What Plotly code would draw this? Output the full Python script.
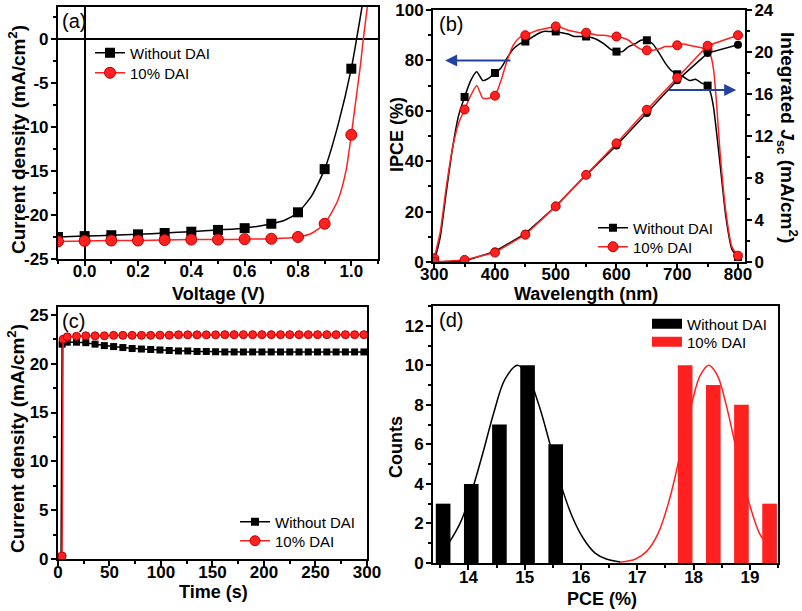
import plotly.graph_objects as go

# ---------------- (a) J-V ----------------
v_markers = [-0.1, 0.0, 0.1, 0.2, 0.3, 0.4, 0.5, 0.6, 0.7, 0.8, 0.9, 1.0]
jv_wo_markers = [-22.5, -22.4, -22.3, -22.2, -22.05, -21.9, -21.7, -21.5, -21.0, -19.7, -14.8, -3.4]
jv_dai_markers = [-23.0, -22.95, -22.9, -22.9, -22.85, -22.8, -22.8, -22.75, -22.7, -22.5, -21.0, -10.9]
v_line_wo = [-0.1, 0.0, 0.1, 0.2, 0.3, 0.4, 0.5, 0.6, 0.7, 0.75, 0.8, 0.85, 0.9, 0.95, 1.0, 1.02, 1.04, 1.06]
jv_line_wo = [-22.5, -22.4, -22.3, -22.2, -22.05, -21.9, -21.7, -21.5, -21.0, -20.6, -19.7, -17.9, -14.8, -9.8, -3.4, 0.0, 3.6, 7.5]
v_line_dai = [-0.1, 0.0, 0.1, 0.2, 0.3, 0.4, 0.5, 0.6, 0.7, 0.8, 0.85, 0.9, 0.95, 0.98, 1.0, 1.02, 1.035, 1.045, 1.06, 1.07]
jv_line_dai = [-23.0, -22.95, -22.9, -22.9, -22.85, -22.8, -22.8, -22.75, -22.7, -22.5, -22.1, -21.0, -18.3, -15.0, -10.9, -6.3, -2.8, 0.0, 3.6, 6.5]
a_xticks = [0.0, 0.2, 0.4, 0.6, 0.8, 1.0]
a_xticklabels = ["0.0", "0.2", "0.4", "0.6", "0.8", "1.0"]
a_yticks = [-25, -20, -15, -10, -5, 0]
a_yticklabels = ["-25", "-20", "-15", "-10", "-5", "0"]

# ---------------- (b) IPCE & integrated Jsc ----------------
wl_dense_wo = [300, 310, 320, 330, 340, 350, 360, 370, 380, 390, 400, 410, 420, 430, 440, 450, 460, 470, 480,
               490, 500, 510, 520, 530, 540, 550, 560, 570, 580, 590, 600, 610, 620, 630, 640, 650, 660, 670,
               680, 690, 700, 710, 720, 730, 740, 750, 755, 760, 770, 780, 790, 800]
ipce_dense_wo = [0, 10, 28, 45, 58, 65.5, 72, 75.5, 72, 73, 75, 77, 81, 84.5, 86.5, 87.5, 89, 90.5, 91.5,
                 91.5, 91.5, 91, 90.5, 89.5, 89.5, 89.5, 89, 88, 86.5, 84.5, 83.5, 83.5, 85.5, 86.5, 88, 88, 86.5, 83,
                 79, 76, 74.5, 73.5, 72, 72.5, 71, 70, 67, 61, 40, 18, 5, 2]
wl_dense_dai = [300, 310, 320, 330, 340, 350, 360, 370, 380, 390, 400, 410, 420, 430, 440, 450, 460, 470, 480,
                490, 500, 510, 520, 530, 540, 550, 560, 570, 580, 590, 600, 610, 620, 630, 640, 650, 660, 670,
                680, 690, 700, 710, 720, 730, 740, 750, 755, 760, 765, 770, 780, 790, 800]
ipce_dense_dai = [1.5, 12, 30, 45, 55, 60.5, 66, 70, 65, 65, 66, 72, 80, 86, 89, 90, 91, 92, 92.5,
                  93, 93.5, 93, 92, 91.5, 91, 91, 90.5, 90, 90, 89.5, 89.5, 89, 88, 86, 84.5, 84, 84, 84.5,
                  85.5, 85.5, 86, 86.5, 86, 85.5, 85, 84, 82, 76, 62, 45, 20, 6, 2.5]
wl_markers = [300, 350, 400, 450, 500, 550, 600, 650, 700, 750, 800]
ipce_wo_markers = [0, 65.5, 75, 87.5, 91.5, 89.5, 83.5, 88, 74.5, 70, 2]
ipce_dai_markers = [1.5, 60.5, 66, 90, 93.5, 91, 89.5, 84, 86, 84, 2.5]
jsc_wo = [0, 0.1, 1.0, 2.7, 5.3, 8.3, 11.1, 14.2, 17.3, 19.9, 20.7]
jsc_dai = [0, 0.2, 0.9, 2.6, 5.3, 8.3, 11.3, 14.5, 17.55, 20.6, 21.6]
b_xticks = [300, 400, 500, 600, 700, 800]
b_xticklabels = ["300", "400", "500", "600", "700", "800"]
b_yticks = [0, 20, 40, 60, 80, 100]
b_yticklabels = ["0", "20", "40", "60", "80", "100"]
b_y2ticks = [0, 4, 8, 12, 16, 20, 24]
b_y2ticklabels = ["0", "4", "8", "12", "16", "20", "24"]

# ---------------- (c) stability ----------------
t_wo = [0, 3, 4, 9, 18, 27, 36, 45, 54, 63, 72, 81, 90, 99, 108, 117, 126, 135, 144, 153, 162, 171,
        180, 189, 198, 207, 216, 225, 234, 243, 252, 261, 270, 279, 288, 297]
j_wo = [0, 0.2, 22.0, 22.2, 22.2, 22.15, 22.0, 21.85, 21.75, 21.65, 21.55, 21.5, 21.45, 21.4, 21.35, 21.3,
        21.3, 21.25, 21.25, 21.22, 21.2, 21.2, 21.2, 21.2, 21.2, 21.2, 21.2, 21.2, 21.2, 21.2, 21.2, 21.2,
        21.2, 21.2, 21.2, 21.2]
t_dai = [0, 4, 5, 9, 18, 27, 36, 45, 54, 63, 72, 81, 90, 99, 108, 117, 126, 135, 144, 153, 162, 171,
         180, 189, 198, 207, 216, 225, 234, 243, 252, 261, 270, 279, 288, 297]
j_dai = [0.2, 0.3, 22.5, 22.75, 22.8, 22.85, 22.85, 22.85, 22.9, 22.9, 22.9, 22.9, 22.9, 22.92, 22.92, 22.95,
         22.95, 22.95, 22.95, 22.95, 22.97, 22.97, 22.97, 22.97, 22.97, 22.97, 22.97, 22.97, 22.97, 22.97,
         22.97, 22.97, 22.97, 22.97, 22.97, 22.97]
c_xticks = [0, 50, 100, 150, 200, 250, 300]
c_xticklabels = ["0", "50", "100", "150", "200", "250", "300"]
c_yticks = [0, 5, 10, 15, 20, 25]
c_yticklabels = ["0", "5", "10", "15", "20", "25"]

# ---------------- (d) PCE histogram ----------------
pce_bins_wo = [13.55, 14.05, 14.55, 15.05, 15.55]
counts_wo = [3, 4, 7, 10, 6]
pce_bins_dai = [17.85, 18.35, 18.85, 19.35]
counts_dai = [10, 9, 8, 3]
fit_x_wo = [13.65, 13.85, 14.05, 14.25, 14.45, 14.65, 14.87, 15.05, 15.25, 15.45, 15.65, 15.85, 16.05, 16.25, 16.45, 16.7]
fit_y_wo = [1.0, 2.0, 3.55, 5.5, 7.6, 9.3, 10.0, 9.5, 8.0, 6.0, 3.9, 2.3, 1.2, 0.5, 0.2, 0.05]
fit_x_dai = [16.7, 16.97, 17.17, 17.37, 17.57, 17.77, 17.97, 18.12, 18.27, 18.42, 18.57, 18.77, 18.97, 19.17, 19.25]
fit_y_dai = [0.04, 0.2, 0.6, 1.5, 3.2, 5.6, 8.1, 9.5, 10.0, 9.5, 8.1, 5.6, 3.2, 1.5, 1.15]
d_xticks = [14, 15, 16, 17, 18, 19]
d_xticklabels = ["14", "15", "16", "17", "18", "19"]
d_yticks = [0, 2, 4, 6, 8, 10, 12]
d_yticklabels = ["0", "2", "4", "6", "8", "10", "12"]

LEG_WO = "Without DAI"
LEG_DAI = "10% DAI"
RED = "#ff2020"
RED_EDGE = "#c00000"
BLUE = "#2440a0"
FONT = "Liberation Sans, Arial, sans-serif"

fig = go.Figure()


def legend_dummy(name, legend, xa, ya, line, marker=None, mode="lines+markers"):
    kw = dict(x=[None], y=[None], mode=mode, name=name, line=line, xaxis=xa, yaxis=ya, legend=legend)
    if marker is not None:
        kw["marker"] = marker
    fig.add_trace(go.Scatter(**kw))


# (a)
fig.add_trace(go.Scatter(x=v_line_wo, y=jv_line_wo, mode="lines", line=dict(color="black", width=1.5, shape="spline", smoothing=0.6),
                         xaxis="x", yaxis="y", showlegend=False, hoverinfo="skip"))
fig.add_trace(go.Scatter(x=v_line_dai, y=jv_line_dai, mode="lines", line=dict(color=RED, width=1.5, shape="spline", smoothing=0.6),
                         xaxis="x", yaxis="y", showlegend=False, hoverinfo="skip"))
fig.add_trace(go.Scatter(x=v_markers, y=jv_wo_markers, mode="markers", marker=dict(symbol="square", size=10, color="black"),
                         xaxis="x", yaxis="y", showlegend=False))
fig.add_trace(go.Scatter(x=v_markers, y=jv_dai_markers, mode="markers",
                         marker=dict(symbol="circle", size=11, color=RED, line=dict(color=RED_EDGE, width=1)),
                         xaxis="x", yaxis="y", showlegend=False))
legend_dummy(LEG_WO, "legend", "x", "y", dict(color="black", width=1.5), dict(symbol="square", size=10, color="black"))
legend_dummy(LEG_DAI, "legend2", "x", "y", dict(color=RED, width=1.5),
             dict(symbol="circle", size=11, color=RED, line=dict(color=RED_EDGE, width=1)))

# (b)
fig.add_trace(go.Scatter(x=wl_dense_wo, y=ipce_dense_wo, mode="lines", line=dict(color="black", width=1.5, shape="spline", smoothing=0.5),
                         xaxis="x2", yaxis="y2", showlegend=False, hoverinfo="skip"))
fig.add_trace(go.Scatter(x=wl_dense_dai, y=ipce_dense_dai, mode="lines", line=dict(color=RED, width=1.5, shape="spline", smoothing=0.5),
                         xaxis="x2", yaxis="y2", showlegend=False, hoverinfo="skip"))
fig.add_trace(go.Scatter(x=wl_markers, y=ipce_wo_markers, mode="markers", marker=dict(symbol="square", size=8, color="black"),
                         xaxis="x2", yaxis="y2", showlegend=False))
fig.add_trace(go.Scatter(x=wl_markers, y=ipce_dai_markers, mode="markers",
                         marker=dict(symbol="circle", size=9, color=RED, line=dict(color=RED_EDGE, width=1)),
                         xaxis="x2", yaxis="y2", showlegend=False))
fig.add_trace(go.Scatter(x=wl_markers, y=jsc_wo, mode="lines+markers", line=dict(color="black", width=1.5),
                         marker=dict(symbol="circle", size=8, color="black"),
                         xaxis="x2", yaxis="y3", showlegend=False))
fig.add_trace(go.Scatter(x=wl_markers, y=jsc_dai, mode="lines+markers", line=dict(color=RED, width=1.5),
                         marker=dict(symbol="circle", size=9, color=RED, line=dict(color=RED_EDGE, width=1)),
                         xaxis="x2", yaxis="y3", showlegend=False))
legend_dummy(LEG_WO, "legend3", "x2", "y2", dict(color="black", width=1.5), dict(symbol="square", size=8, color="black"))
legend_dummy(LEG_DAI, "legend4", "x2", "y2", dict(color=RED, width=1.5),
             dict(symbol="circle", size=10, color=RED, line=dict(color=RED_EDGE, width=1)))

# (c)
fig.add_trace(go.Scatter(x=t_wo, y=j_wo, mode="lines+markers", line=dict(color="black", width=1.5),
                         marker=dict(symbol="square", size=7, color="black"), xaxis="x3", yaxis="y4", showlegend=False))
fig.add_trace(go.Scatter(x=t_dai, y=j_dai, mode="lines+markers", line=dict(color=RED, width=1.5),
                         marker=dict(symbol="circle", size=8, color=RED, line=dict(color=RED_EDGE, width=1)),
                         xaxis="x3", yaxis="y4", showlegend=False))
legend_dummy(LEG_WO, "legend5", "x3", "y4", dict(color="black", width=1.5), dict(symbol="square", size=8, color="black"))
legend_dummy(LEG_DAI, "legend6", "x3", "y4", dict(color=RED, width=1.5),
             dict(symbol="circle", size=10, color=RED, line=dict(color=RED_EDGE, width=1)))

# (d)
fig.add_trace(go.Bar(x=pce_bins_wo, y=counts_wo, width=0.26, marker=dict(color="black", line=dict(width=0)),
                     name=LEG_WO, xaxis="x4", yaxis="y5", showlegend=False))
fig.add_trace(go.Bar(x=pce_bins_dai, y=counts_dai, width=0.26, marker=dict(color=RED, line=dict(width=0)),
                     name=LEG_DAI, xaxis="x4", yaxis="y5", showlegend=False))
fig.add_trace(go.Scatter(x=fit_x_wo, y=fit_y_wo, mode="lines", line=dict(color="black", width=1.5, shape="spline"),
                         xaxis="x4", yaxis="y5", showlegend=False))
fig.add_trace(go.Scatter(x=fit_x_dai, y=fit_y_dai, mode="lines", line=dict(color=RED, width=1.5, shape="spline"),
                         xaxis="x4", yaxis="y5", showlegend=False))
legend_dummy(LEG_WO, "legend7", "x4", "y5", dict(color="black", width=12), mode="lines")
legend_dummy(LEG_DAI, "legend8", "x4", "y5", dict(color=RED, width=12), mode="lines")

TICK_SIZE = 17
tickfont = dict(family=FONT, size=TICK_SIZE, color="black")
titlefont = dict(family=FONT, size=18, color="black", weight="bold")


def bold(labels):
    return ["<b>%s</b>" % s for s in labels]


def ax(domain, rng, tickvals, ticktext, minor_dtick, anchor, standoff, **kw):
    d = dict(domain=domain, range=rng, tickmode="array", tickvals=tickvals, ticktext=bold(ticktext),
             showgrid=False, zeroline=False, automargin=False, ticklabelstandoff=standoff,
             showline=True, linecolor="black", linewidth=2, mirror=True, ticks="outside", ticklen=5,
             tickwidth=2, tickcolor="black", tickfont=tickfont,
             minor=dict(dtick=minor_dtick, tick0=0, ticks="outside", ticklen=3, tickwidth=1.5, tickcolor="black", showgrid=False),
             anchor=anchor)
    d.update(kw)
    return d


legend_common = dict(bgcolor="rgba(0,0,0,0)", font=dict(family=FONT, size=15, color="black"),
                     tracegroupgap=0, itemwidth=30, xanchor="left", yanchor="middle", borderwidth=0)


def leg(x_px, y_px):
    d = dict(legend_common)
    d.update(x=x_px / 802, y=1 - y_px / 611)
    return d


fig.update_layout(
    template="none",
    width=802, height=611, margin=dict(l=0, r=0, t=0, b=0, autoexpand=False),
    paper_bgcolor="white", plot_bgcolor="white", barmode="overlay",
    font=dict(family=FONT, color="black"),
    xaxis=ax([0.0723, 0.4713], [-0.1, 1.1], a_xticks, a_xticklabels, 0.1, "y", -9,
             zeroline=True, zerolinecolor="black", zerolinewidth=2),
    yaxis=ax([0.5761, 0.9885], [-25, 3.6], a_yticks, a_yticklabels, 2.5, "x", -1,
             zeroline=True, zerolinecolor="black", zerolinewidth=2),
    xaxis2=ax([0.5399, 0.9289], [298, 811.5], b_xticks, b_xticklabels, 50, "y2", -9),
    yaxis2=ax([0.5712, 0.9836], [0, 100], b_yticks, b_yticklabels, 10, "x2", -1),
    yaxis3=dict(overlaying="y2", side="right", anchor="x2", range=[0, 24], tickmode="array",
                tickvals=b_y2ticks, ticktext=bold(b_y2ticklabels), showgrid=False, zeroline=False, automargin=False,
                showline=True, linecolor="black", linewidth=2, ticks="outside", ticklen=5, tickwidth=2,
                tickcolor="black", tickfont=tickfont, ticklabelstandoff=-1,
                minor=dict(dtick=2, tick0=0, ticks="outside", ticklen=3, tickwidth=1.5, tickcolor="black")),
    xaxis3=ax([0.0723, 0.4576], [0, 300], c_xticks, c_xticklabels, 25, "y4", -8),
    yaxis4=ax([0.0851, 0.4975], [0, 25.8], c_yticks, c_yticklabels, 2.5, "x3", -1),
    xaxis4=ax([0.5399, 0.9701], [13.37, 19.5], d_xticks, d_xticklabels, 0.5, "y5", -7),
    yaxis5=ax([0.0786, 0.4992], [0, 13], d_yticks, d_yticklabels, 1, "x4", -1),
    legend=leg(90, 53), legend2=leg(90, 73),
    legend3=leg(593, 228), legend4=leg(593, 247),
    legend5=leg(235, 522), legend6=leg(235, 541),
    legend7=leg(647, 324), legend8=leg(647, 342),
)

panel_font = dict(family=FONT, size=20, color="black")
for txt, xr, yr, xx in [("(a)", "x domain", "y domain", 0.005), ("(b)", "x2 domain", "y2 domain", 0.012),
                        ("(c)", "x3 domain", "y4 domain", 0.005), ("(d)", "x4 domain", "y5 domain", 0.012)]:
    fig.add_annotation(text=txt, xref=xr, yref=yr, x=xx, y=0.995,
                       xanchor="left", yanchor="top", showarrow=False, font=panel_font)

# axis titles
big_title = dict(titlefont, size=19)
titles = [
    ("Current density (mA/cm<sup>2</sup>)", 17, 140, -90, big_title),
    ("Voltage (V)", 218, 294, 0, titlefont),
    ("IPCE (%)", 397, 135, -90, titlefont),
    ("Wavelength (nm)", 586, 294, 0, titlefont),
    ("Integrated <i>J</i><sub>sc</sub> (mA/cm<sup>2</sup>)", 787, 137, 90, big_title),
    ("Current density (mA/cm<sup>2</sup>)", 16, 439, -90, big_title),
    ("Time (s)", 213, 592, 0, titlefont),
    ("Counts", 396, 447, -90, titlefont),
    ("PCE (%)", 602, 599, 0, titlefont),
]
for txt, xp, yp, ang, f in titles:
    fig.add_annotation(text=txt, xref="paper", yref="paper", x=xp / 802, y=1 - yp / 611,
                       xanchor="center", yanchor="middle", textangle=ang, showarrow=False, font=f)

# arrows in (b)
fig.add_annotation(x=318, y=80, ax=428, ay=80, xref="x2", yref="y2", axref="x2", ayref="y2", text="",
                   showarrow=True, arrowhead=2, arrowsize=1.2, arrowwidth=2, arrowcolor=BLUE)
fig.add_annotation(x=797, y=68.3, ax=683, ay=68.3, xref="x2", yref="y2", axref="x2", ayref="y2", text="",
                   showarrow=True, arrowhead=2, arrowsize=1.2, arrowwidth=2, arrowcolor=BLUE)

fig.write_html("out.html", config={"displayModeBar": False},
               post_script="document.body.style.margin='0';document.body.style.padding='0';")
